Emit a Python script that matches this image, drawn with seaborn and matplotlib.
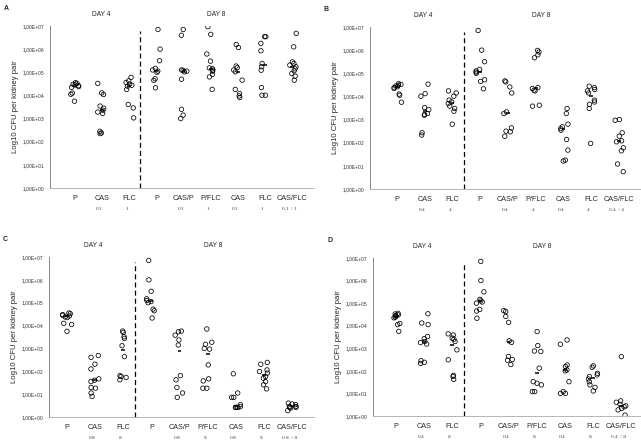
import numpy as np
import pandas as pd
import matplotlib.pyplot as plt
import seaborn as sns

# groups (same order in every panel)
GROUPS = ["P", "CAS", "FLC", "P", "CAS/P", "P/FLC", "CAS", "FLC", "CAS/FLC"]
KEYS = ["d4_P", "d4_CAS", "d4_FLC", "d8_P", "d8_CASP", "d8_PFLC", "d8_CAS", "d8_FLC", "d8_CASFLC"]

# doses written under the labels
DOSE_A = ["", "0.1", "1", "", "0.1", "1", "0.1", "1", "0.1  / 1"]
DOSE_B = ["", "0.4", "4", "", "0.4", "4", "0.4", "4", "0.4  / 4"]
DOSE_C = ["", "0.8", "8", "", "0.8", "8", "0.8", "8", "0.8  / 8"]
DOSE_D = ["", "0.4", "8", "", "0.4", "8", "0.4", "8", "0.4  / 8"]

# log10 CFU per kidney pair
P_D4 = [4.55, 4.52, 4.48, 4.45, 4.42, 4.38, 4.35, 4.1, 4.05, 3.75]
P_D8 = [6.85, 6.0, 5.5, 5.17, 5.1, 5.05, 5.0, 4.72, 4.65, 4.33]

A_CAS_D4 = [4.52, 4.11, 4.04, 3.54, 3.45, 3.36, 3.28, 3.22, 2.45, 2.38, 2.35]
A_FLC_D4 = [4.78, 4.63, 4.56, 4.49, 4.44, 4.40, 4.26, 3.61, 3.46, 3.03]
A_CASP = [6.85, 6.6, 5.1, 5.08, 5.05, 5.02, 4.7, 3.4, 3.15, 3.0]
A_PFLC = [6.97, 6.64, 5.79, 5.48, 5.19, 5.15, 5.09, 5.05, 4.91, 4.80, 4.26]
A_CAS_D8 = [6.2, 6.07, 5.27, 5.2, 5.1, 5.02, 4.66, 4.26, 4.08, 3.98, 3.91]
A_FLC_D8 = [6.54, 6.54, 6.25, 5.93, 5.38, 5.24, 5.09, 4.34, 4.01, 4.01]
A_CASFLC = [6.68, 6.1, 5.45, 5.38, 5.31, 5.24, 5.15, 5.06, 4.95, 4.83, 4.66]

B_CAS_D4 = [4.53, 4.12, 4.01, 3.52, 3.43, 3.26, 3.22, 3.19, 2.43, 2.33]
B_FLC_D4 = [4.24, 4.15, 4.01, 3.84, 3.76, 3.69, 3.58, 3.48, 3.36, 2.80]
B_CASP = [4.67, 4.63, 4.41, 4.15, 3.33, 3.26, 2.64, 2.5, 2.47, 2.28]
B_PFLC = [5.99, 5.92, 5.80, 5.67, 4.38, 4.34, 4.27, 4.24, 3.62, 3.58]
B_CAS_D8 = [3.48, 3.26, 2.80, 2.69, 2.61, 2.54, 2.14, 1.68, 1.25, 1.21]
B_FLC_D8 = [4.44, 4.38, 4.30, 4.24, 4.15, 3.84, 3.76, 3.66, 3.48, 1.97]
B_CASFLC = [3.0, 2.97, 2.43, 2.28, 2.08, 2.04, 1.78, 1.65, 1.08, 0.75]

C_CAS_D4 = [2.69, 2.61, 2.31, 2.10, 1.67, 1.61, 1.55, 1.29, 1.26, 1.05, 0.90]
C_FLC_D4 = [3.76, 3.70, 3.51, 3.44, 3.12, 2.64, 1.81, 1.77, 1.73, 1.63]
C_CASP = [3.76, 3.73, 3.58, 3.37, 3.15, 1.81, 1.63, 1.29, 1.05, 0.86]
C_PFLC = [3.85, 3.27, 3.18, 3.0, 2.97, 2.28, 1.67, 1.58, 1.26, 1.26]
C_CAS_D8 = [1.89, 1.05, 0.86, 0.86, 0.54, 0.45, 0.42, 0.42, 0.42, 0.42]
C_FLC_D8 = [2.39, 2.31, 2.06, 1.99, 1.92, 1.77, 1.70, 1.55, 1.41, 1.23]
C_CASFLC = [0.61, 0.57, 0.54, 0.46, 0.46, 0.42, 0.42, 0.39, 0.28]

D_CAS_D4 = [4.53, 4.12, 4.05, 3.52, 3.43, 3.3, 3.25, 3.19, 2.45, 2.38, 2.33]
D_FLC_D4 = [3.64, 3.59, 3.45, 3.40, 3.30, 2.93, 2.49, 1.80, 1.75, 1.62]
D_CASP = [4.67, 4.63, 4.41, 4.15, 3.33, 3.26, 2.64, 2.5, 2.47, 2.28]
D_PFLC = [3.74, 3.12, 2.88, 2.86, 2.12, 1.52, 1.45, 1.38, 1.08, 1.08]
D_CAS_D8 = [3.37, 3.18, 2.26, 2.19, 2.04, 2.0, 1.52, 1.08, 1.0, 1.0]
D_FLC_D8 = [2.22, 2.16, 1.89, 1.82, 1.75, 1.64, 1.52, 1.38, 1.27, 1.11]
D_CASFLC = [2.63, 0.67, 0.61, 0.52, 0.45, 0.41, 0.34, 0.27, 0.04]

panel_data = {
    "A": [P_D4, A_CAS_D4, A_FLC_D4, P_D8, A_CASP, A_PFLC, A_CAS_D8, A_FLC_D8, A_CASFLC],
    "B": [P_D4, B_CAS_D4, B_FLC_D4, P_D8, B_CASP, B_PFLC, B_CAS_D8, B_FLC_D8, B_CASFLC],
    "C": [P_D4, C_CAS_D4, C_FLC_D4, P_D8, C_CASP, C_PFLC, C_CAS_D8, C_FLC_D8, C_CASFLC],
    "D": [P_D4, D_CAS_D4, D_FLC_D4, P_D8, D_CASP, D_PFLC, D_CAS_D8, D_FLC_D8, D_CASFLC],
}
panel_doses = {"A": DOSE_A, "B": DOSE_B, "C": DOSE_C, "D": DOSE_D}

# layout in pixels: spine x, top y, bottom y, x of first group, x of last group
layout = {
    "A": (50, 26, 188, 75, 292),
    "B": (370, 27, 189, 397, 619),
    "C": (49, 257, 417, 67, 292),
    "D": (373, 258, 416, 396, 621),
}
W, H = 641, 447

sns.set_style("white")
plt.rcParams['font.family'] = ['Liberation Sans', 'DejaVu Sans']
np.random.seed(3)

fig = plt.figure(figsize=(W / 100, H / 100), dpi=100)

for name, vals in panel_data.items():
    sx, ty, by, x0, x8 = layout[name]
    step = (x8 - x0) / 8
    xl = -(x0 - sx) / step
    xr = 8 + 22 / step
    ax = fig.add_axes([sx / W, 1 - by / H, (xr - xl) * step / W, (by - ty) / H])

    rows = []
    for k, v in zip(KEYS, vals):
        for lv in v:
            rows.append({"grp": k, "cfu": 10 ** lv})
    df = pd.DataFrame(rows)

    sns.stripplot(data=df, x="grp", y="cfu", order=KEYS, jitter=0.17, size=3.2,
                  facecolor="none", edgecolor="black", linewidth=0.55, ax=ax)

    # median dashes
    med = df.groupby("grp")["cfu"].median().reindex(KEYS)
    ax.hlines(med.values, np.arange(9) - 0.07, np.arange(9) + 0.07, color="black", lw=1.1)

    ax.set_yscale("log")
    ax.set_ylim(1, 1e7)
    ax.set_xlim(xl, xr)
    ax.set_yticks([10 ** i for i in range(8)])
    ax.set_yticklabels([f"1,00E+{i:02d}" for i in range(8)], fontsize=3.6, color="#333333")
    ax.minorticks_off()
    ax.tick_params(axis="y", direction="out", length=2.5, width=0.6, color="#888888", pad=1.5)
    ax.set_xticks(range(9))
    ax.set_xticklabels(GROUPS, fontsize=5.2)
    ax.tick_params(axis="x", length=0, pad=5)
    ax.set_xlabel("")
    ax.set_ylabel("Log10 CFU per kidney pair", fontsize=5.6, labelpad=3)
    for s in ["top", "right"]:
        ax.spines[s].set_visible(False)
    ax.spines["left"].set_color("#888888")
    ax.spines["left"].set_linewidth(0.7)
    ax.spines["bottom"].set_color("#aaaaaa")
    ax.spines["bottom"].set_linewidth(0.6)

    # day separator
    ax.axvline(2.4, ymin=0, ymax=0.97, color="black", lw=0.9, ls=(0, (4, 2.5)))

    ax.text(0.95, 1.07, "DAY 4", fontsize=4.8, ha="center", va="center",
            transform=ax.get_xaxis_transform())
    ax.text(5.2, 1.07, "DAY 8", fontsize=4.8, ha="center", va="center",
            transform=ax.get_xaxis_transform())

    for i, d in enumerate(panel_doses[name]):
        if d:
            ax.text(i - 0.1, -0.13, d, fontsize=3.8, ha="center", va="center",
                    family="Liberation Serif", color="#444444",
                    transform=ax.get_xaxis_transform())

    fig.text((sx - 46) / W, 1 - (ty - 21) / H, name, fontsize=5, fontweight="bold",
             ha="left", va="top")

fig.savefig("out.png", dpi=100)
